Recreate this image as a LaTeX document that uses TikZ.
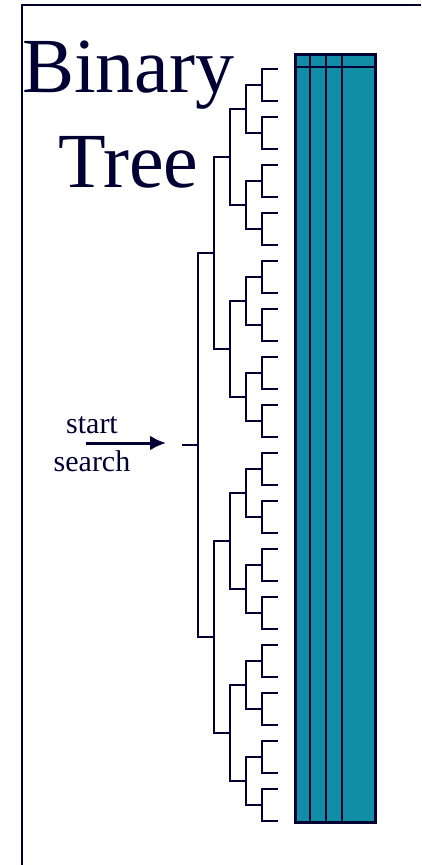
\documentclass[tikz,border=0pt]{standalone}
\usepackage{fontspec}
\setmainfont{Liberation Serif}
\usetikzlibrary{arrows.meta}
\definecolor{ink}{HTML}{000033}
\definecolor{teal}{HTML}{118DA6}
\begin{document}
\begin{tikzpicture}[x=1bp,y=-1bp,
  wire/.style={draw=ink,line width=2bp},
  title/.style={text=ink,inner sep=0pt,anchor=base west,font=\fontsize{78bp}{95bp}\selectfont},
  label/.style={text=ink,inner sep=0pt,anchor=base,font=\fontsize{30bp}{38bp}\selectfont}]
  % page frame and bounding box
  \fill[white] (0,0) rectangle (421,865);
  \useasboundingbox (0,0) rectangle (421,865);
  \coordinate (frameTL) at (22,5);
  \draw[wire] (421,5) -- (frameTL) -- (22,865);

  % title
  \node[title] (binary) at (22,92) {Binary};
  \node[title] (tree) at (58,187) {Tree};

  % leaf brackets
  \foreach \i in {0,...,15}{
    \pgfmathsetmacro{\c}{85+48*\i}
    \draw[wire] (278,\c-16) -- (262,\c-16) -- (262,\c+16) -- (278,\c+16);
  }
  % level 4
  \foreach \j in {0,...,7}{
    \pgfmathsetmacro{\a}{85+96*\j}
    \draw[wire] (262,\a) -- (246,\a) -- (246,\a+48) -- (262,\a+48);
  }
  % level 3
  \foreach \k in {0,...,3}{
    \pgfmathsetmacro{\a}{109+192*\k}
    \draw[wire] (246,\a) -- (230,\a) -- (230,\a+96) -- (246,\a+96);
  }
  % level 2
  \foreach \m in {0,1}{
    \pgfmathsetmacro{\a}{157+384*\m}
    \draw[wire] (230,\a) -- (214,\a) -- (214,\a+192) -- (230,\a+192);
  }
  % level 1 and root
  \draw[wire] (214,253) -- (198,253) -- (198,637) -- (214,637);
  \coordinate (root) at (182,445);
  \coordinate (rootjoin) at (198,445);
  \draw[wire] (root) -- (rootjoin);

  % table
  \node[draw=ink,fill=teal,line width=2.5bp,minimum width=80bp,minimum height=768bp,inner sep=0pt,anchor=north west] (table) at (294,53) {};
  \foreach \x in {310,326,342}{
    \draw[wire] (\x,53) -- (\x,821);
  }
  \draw[wire] (294,67) -- (374,67);

  % start search arrow
  \node[label] (start) at (92,433) {start};
  \node[label] (search) at (92,471) {search};
  \coordinate (arrowtail) at (86,443);
  \coordinate (arrowhead) at (166,443);
  \draw[wire,line width=3bp,-{Latex[length=16bp,width=15bp]}] (arrowtail) -- (arrowhead);
\end{tikzpicture}
\end{document}
